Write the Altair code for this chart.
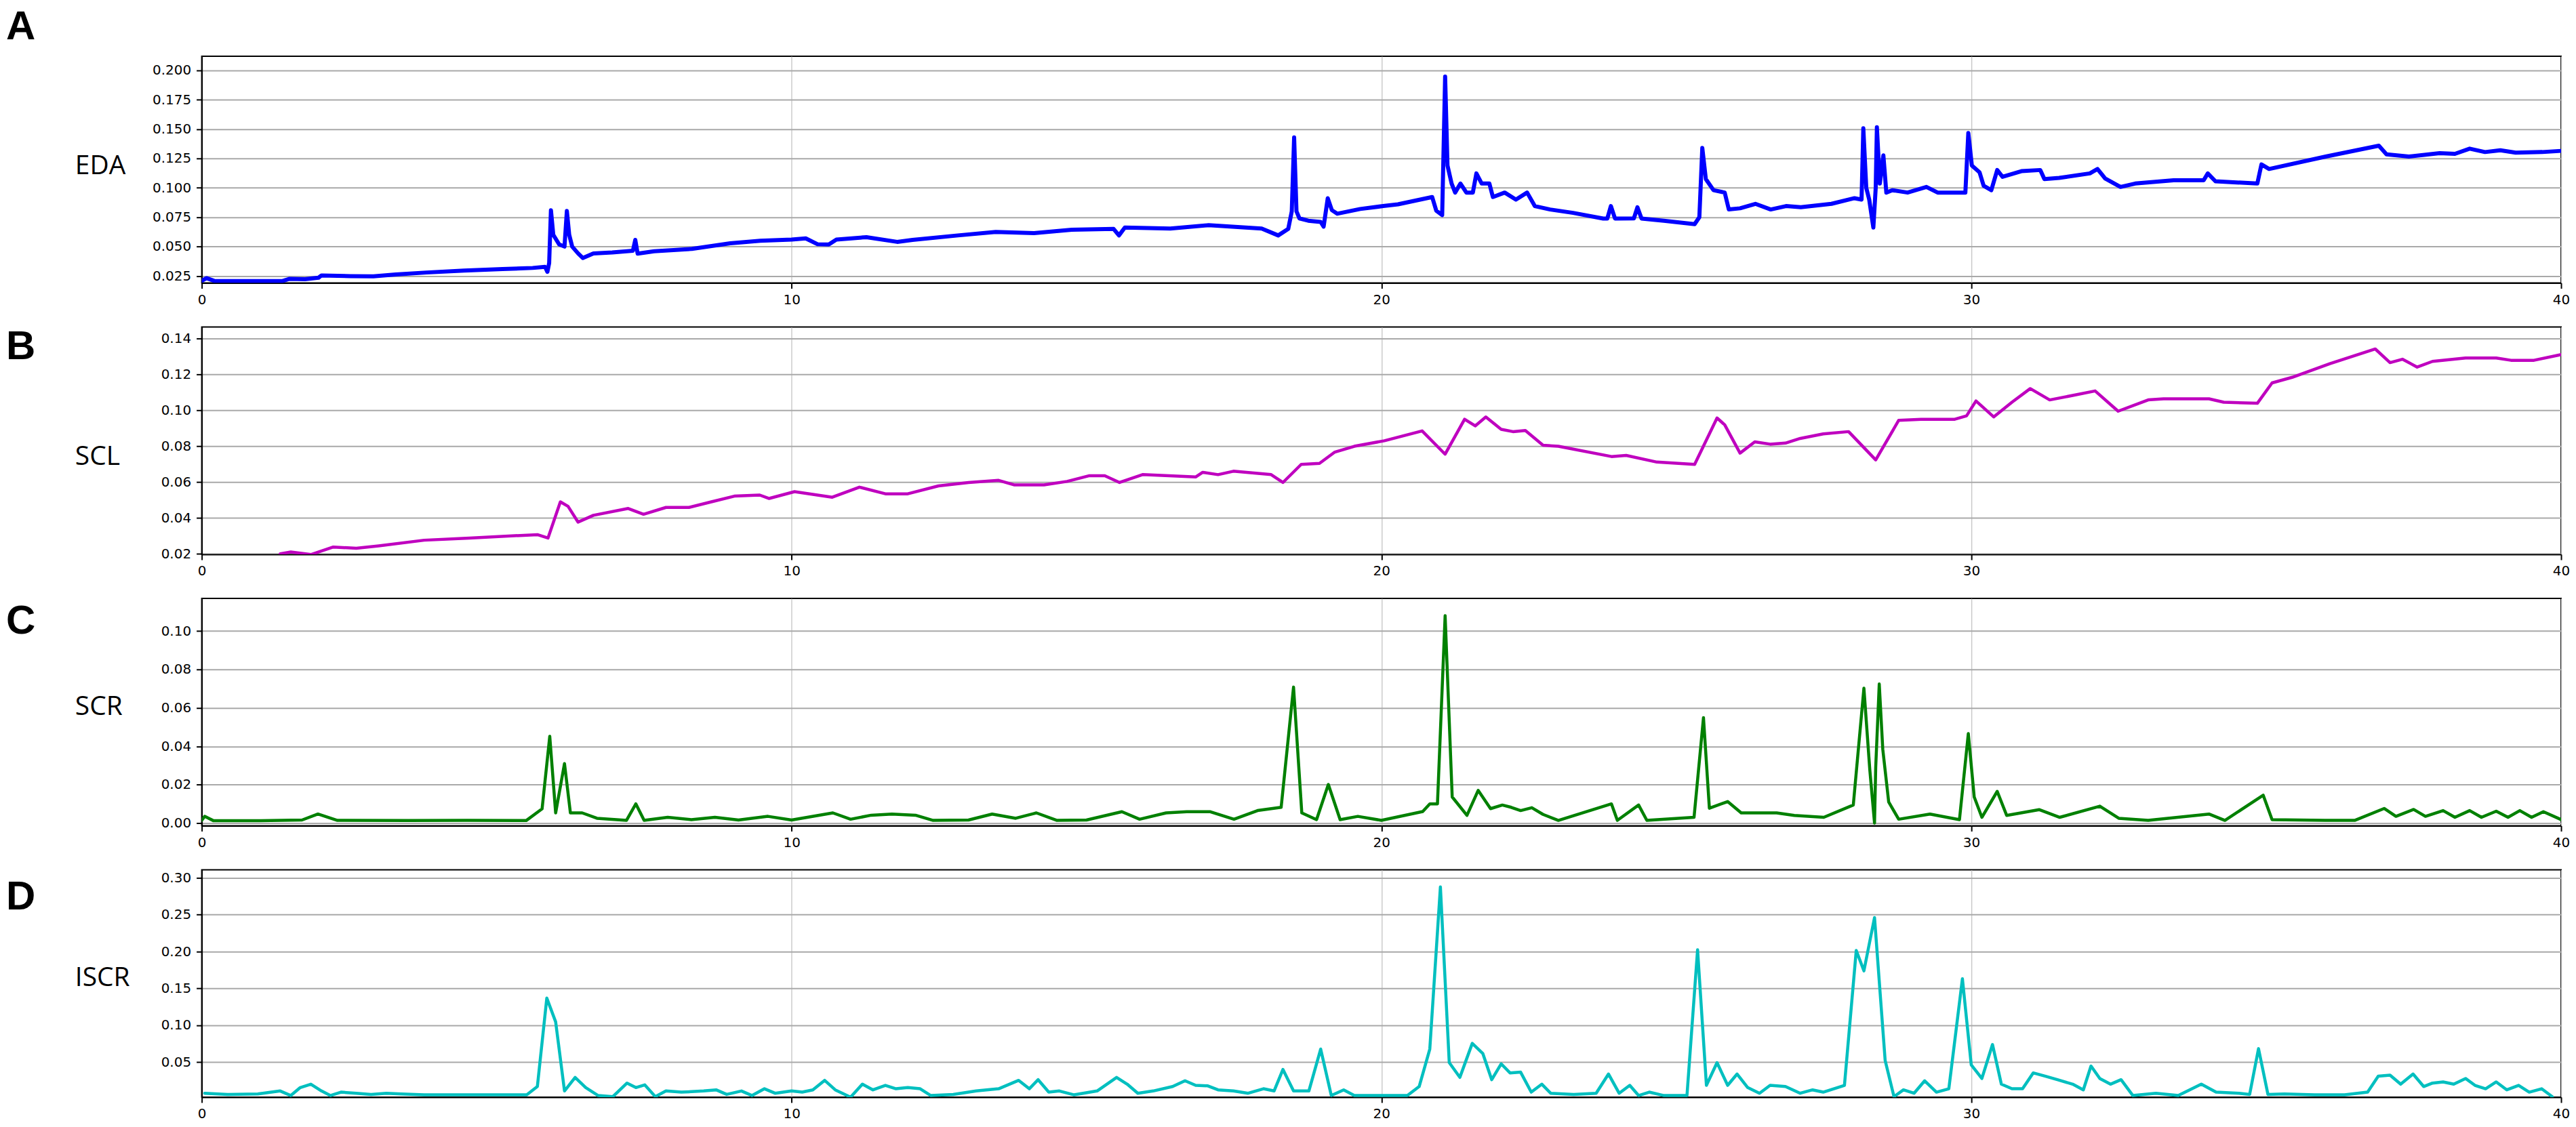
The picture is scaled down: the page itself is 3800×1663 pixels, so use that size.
import altair as alt
import pandas as pd

# ---- data: (time, value) pairs ----
eda_points = [
    (0.01,0.0211),(0.08,0.0231),(0.21,0.0208),(0.72,0.0206),(1.36,0.0206),(1.49,0.0225),(1.75,0.0222),
    (1.98,0.0235),(2.03,0.0254),(2.52,0.0248),(2.91,0.0246),(3.29,0.0262),(3.81,0.0279),(4.45,0.0295),
    (5.10,0.0308),(5.61,0.0318),(5.82,0.0327),(5.86,0.0285),(5.89,0.0360),(5.92,0.0810),(5.96,0.0600),
    (6.06,0.0518),(6.15,0.0500),(6.19,0.0803),(6.23,0.0600),(6.28,0.0500),(6.38,0.0442),(6.46,0.0403),
    (6.64,0.0442),(6.96,0.0450),(7.31,0.0465),(7.35,0.0557),(7.39,0.0440),(7.67,0.0460),(8.31,0.0480),
    (8.96,0.0528),(9.47,0.0550),(10.0,0.0560),(10.24,0.0570),(10.44,0.0520),(10.63,0.0518),(10.76,0.0560),
    (11.27,0.0580),(11.79,0.0540),(12.05,0.0557),(12.82,0.0595),(13.46,0.0624),(14.11,0.0615),(14.75,0.0643),
    (15.46,0.0650),(15.55,0.0595),(15.65,0.0662),(16.42,0.0653),(17.07,0.0682),(17.97,0.0653),(18.25,0.0595),
    (18.42,0.0650),(18.48,0.0800),(18.52,0.1430),(18.56,0.0800),(18.61,0.0740),(18.76,0.0720),(18.97,0.0710),
    (19.02,0.0670),(19.09,0.0912),(19.16,0.0810),(19.25,0.0780),(19.64,0.0820),(20.03,0.0845),(20.28,0.0860),
    (20.86,0.0922),(20.93,0.0806),(21.03,0.0768),(21.08,0.1948),(21.12,0.1190),(21.19,0.1037),(21.25,0.0960),
    (21.34,0.1037),(21.44,0.0960),(21.55,0.0960),(21.61,0.1123),(21.70,0.1037),(21.83,0.1037),(21.89,0.0922),
    (22.09,0.0960),(22.28,0.0900),(22.47,0.0960),(22.60,0.0845),(22.86,0.0816),(23.25,0.0787),(23.76,0.0739),
    (23.83,0.0739),(23.89,0.0845),(23.96,0.0739),(24.28,0.0740),(24.34,0.0835),(24.41,0.0739),(24.79,0.0720),
    (25.31,0.0691),(25.39,0.0750),(25.44,0.1340),(25.50,0.1075),(25.63,0.0980),(25.82,0.0960),(25.89,0.0816),
    (26.08,0.0826),(26.34,0.0864),(26.60,0.0816),(26.86,0.0845),(27.11,0.0835),(27.63,0.0864),(28.02,0.0912),
    (28.14,0.0900),(28.17,0.1507),(28.22,0.1000),(28.27,0.0900),(28.34,0.0662),(28.38,0.1000),(28.40,0.1516),
    (28.45,0.1037),(28.51,0.1277),(28.56,0.0960),(28.66,0.0980),(28.92,0.0960),(29.24,0.1008),(29.43,0.0960),
    (29.90,0.0960),(29.95,0.1468),(30.01,0.1190),(30.14,0.1133),(30.21,0.1018),(30.34,0.0980),(30.44,0.1152),
    (30.53,0.1094),(30.85,0.1142),(31.17,0.1152),(31.24,0.1075),(31.49,0.1085),(32.01,0.1123),(32.14,0.1161),
    (32.27,0.1080),(32.53,0.1008),(32.78,0.1037),(33.43,0.1065),(33.94,0.1065),(34.01,0.1123),(34.14,0.1056),
    (34.85,0.1037),(34.92,0.1200),(35.05,0.1161),(36.01,0.1267),(36.91,0.1359),(37.04,0.1286),(37.42,0.1267),
    (37.94,0.1296),(38.20,0.1290),(38.45,0.1334),(38.71,0.1305),(38.97,0.1320),(39.23,0.1300),(39.68,0.1305),
    (40.0,0.1315),
]

scl_points = [
    (1.33,0.0200),(1.51,0.0210),(1.85,0.0196),(2.23,0.0238),(2.62,0.0231),(3.00,0.0244),(3.77,0.0276),
    (4.54,0.0288),(5.69,0.0307),(5.87,0.0288),(6.08,0.0490),(6.21,0.0465),(6.38,0.0377),(6.64,0.0415),
    (7.23,0.0453),(7.49,0.0421),(7.87,0.0459),(8.26,0.0459),(8.64,0.0490),(9.03,0.0522),(9.46,0.0528),
    (9.62,0.0509),(10.05,0.0547),(10.69,0.0516),(11.15,0.0572),(11.59,0.0535),(11.97,0.0535),(12.49,0.0579),
    (13.00,0.0598),(13.51,0.0610),(13.77,0.0585),(14.28,0.0585),(14.67,0.0604),(15.05,0.0636),(15.31,0.0636),
    (15.56,0.0598),(15.95,0.0642),(16.85,0.0629),(16.97,0.0655),(17.23,0.0642),(17.49,0.0661),(18.13,0.0642),
    (18.33,0.0598),(18.64,0.0699),(18.95,0.0705),(19.21,0.0768),(19.54,0.0800),(20.05,0.0831),(20.69,0.0886),
    (21.08,0.0756),(21.41,0.0951),(21.59,0.0914),(21.77,0.0964),(22.03,0.0895),(22.23,0.0882),(22.44,0.0888),
    (22.74,0.0806),(23.00,0.0800),(23.90,0.0743),(24.15,0.0749),(24.67,0.0712),(25.31,0.0699),(25.69,0.0958),
    (25.82,0.0920),(26.08,0.0762),(26.33,0.0825),(26.59,0.0812),(26.85,0.0818),(27.10,0.0844),(27.49,0.0869),
    (27.92,0.0882),(28.38,0.0724),(28.77,0.0945),(29.15,0.0951),(29.72,0.0951),(29.92,0.0970),(30.08,0.1053),
    (30.38,0.0964),(30.69,0.1046),(31.00,0.1122),(31.33,0.1059),(31.72,0.1084),(32.10,0.1109),(32.49,0.0996),
    (33.00,0.1059),(33.26,0.1065),(34.03,0.1065),(34.28,0.1046),(34.85,0.1040),(35.10,0.1154),(35.44,0.1185),
    (36.08,0.1261),(36.85,0.1343),(37.10,0.1267),(37.31,0.1286),(37.56,0.1242),(37.82,0.1274),(38.38,0.1293),
    (38.90,0.1293),(39.15,0.1280),(39.54,0.1280),(40.00,0.1312),
]

scr_points = [
    (0.00,0.0015),(0.05,0.0035),(0.20,0.0012),(1.00,0.0012),(1.70,0.0016),(1.97,0.0047),(2.30,0.0014),
    (3.50,0.0013),(4.50,0.0014),(5.50,0.0013),(5.77,0.0074),(5.90,0.0452),(6.00,0.0053),(6.15,0.0310),
    (6.25,0.0053),(6.45,0.0053),(6.70,0.0025),(7.20,0.0014),(7.36,0.0100),(7.50,0.0014),(7.90,0.0030),
    (8.30,0.0018),(8.70,0.0030),(9.10,0.0016),(9.60,0.0035),(10.00,0.0016),(10.70,0.0053),(11.00,0.0020),
    (11.35,0.0041),(11.70,0.0047),(12.10,0.0041),(12.40,0.0014),(13.00,0.0016),(13.40,0.0047),(13.80,0.0025),
    (14.15,0.0053),(14.50,0.0014),(15.00,0.0016),(15.60,0.0059),(15.90,0.0020),(16.35,0.0053),(16.70,0.0059),
    (17.10,0.0059),(17.50,0.0020),(17.90,0.0065),(18.30,0.0082),(18.51,0.0708),(18.65,0.0053),(18.90,0.0018),
    (19.10,0.0201),(19.30,0.0018),(19.60,0.0035),(20.00,0.0014),(20.70,0.0060),(20.82,0.0100),(20.95,0.0100),
    (21.08,0.1080),(21.20,0.0136),(21.45,0.0040),(21.64,0.0170),(21.85,0.0075),(22.05,0.0094),(22.20,0.0082),
    (22.36,0.0065),(22.55,0.0080),(22.74,0.0045),(23.00,0.0014),(23.90,0.0100),(24.00,0.0014),(24.36,0.0094),
    (24.50,0.0014),(25.30,0.0030),(25.46,0.0549),(25.56,0.0077),(25.87,0.0112),(26.10,0.0053),(26.40,0.0053),
    (26.70,0.0053),(27.00,0.0040),(27.50,0.0030),(28.00,0.0094),(28.18,0.0702),(28.28,0.0277),(28.36,0.0000),
    (28.38,0.0290),(28.44,0.0724),(28.50,0.0384),(28.60,0.0110),(28.77,0.0020),(29.30,0.0047),(29.80,0.0018),
    (29.95,0.0466),(30.05,0.0136),(30.18,0.0030),(30.44,0.0165),(30.60,0.0040),(31.15,0.0070),(31.50,0.0030),
    (32.18,0.0088),(32.50,0.0025),(33.00,0.0014),(34.03,0.0047),(34.30,0.0014),(34.95,0.0145),(35.10,0.0018),
    (36.00,0.0014),(36.50,0.0014),(37.00,0.0076),(37.20,0.0035),(37.50,0.0071),(37.70,0.0035),(38.00,0.0065),
    (38.20,0.0030),(38.45,0.0065),(38.65,0.0030),(38.90,0.0062),(39.10,0.0030),(39.30,0.0065),(39.50,0.0030),
    (39.70,0.0059),(40.00,0.0018),
]

iscr_points = [
    (0.05,0.0079),(0.44,0.0063),(0.95,0.0069),(1.33,0.0110),(1.51,0.0048),(1.67,0.0156),(1.85,0.0202),
    (2.03,0.0110),(2.18,0.0048),(2.36,0.0094),(2.62,0.0079),(2.87,0.0063),(3.13,0.0079),(3.38,0.0070),
    (3.77,0.0057),(4.54,0.0057),(5.51,0.0057),(5.69,0.0170),(5.85,0.1370),(6.00,0.1047),(6.15,0.0110),
    (6.33,0.0294),(6.51,0.0156),(6.72,0.0048),(6.97,0.0033),(7.21,0.0217),(7.36,0.0156),(7.51,0.0193),
    (7.69,0.0033),(7.87,0.0110),(8.13,0.0094),(8.51,0.0110),(8.72,0.0125),(8.90,0.0063),(9.15,0.0110),
    (9.33,0.0048),(9.54,0.0140),(9.72,0.0079),(10.00,0.0110),(10.18,0.0094),(10.36,0.0125),(10.56,0.0254),
    (10.74,0.0125),(11.00,0.0026),(11.20,0.0202),(11.38,0.0125),(11.59,0.0186),(11.77,0.0140),(11.97,0.0156),
    (12.18,0.0140),(12.36,0.0048),(12.74,0.0063),(13.13,0.0110),(13.51,0.0140),(13.85,0.0254),(14.03,0.0140),
    (14.18,0.0263),(14.36,0.0094),(14.54,0.0110),(14.79,0.0057),(15.18,0.0110),(15.51,0.0294),(15.69,0.0202),
    (15.87,0.0079),(16.13,0.0110),(16.46,0.0170),(16.67,0.0248),(16.85,0.0186),(17.05,0.0180),(17.23,0.0125),
    (17.49,0.0110),(17.74,0.0079),(18.00,0.0140),(18.18,0.0110),(18.33,0.0402),(18.51,0.0110),(18.77,0.0110),
    (18.97,0.0678),(19.15,0.0048),(19.36,0.0125),(19.54,0.0048),(20.44,0.0048),(20.64,0.0170),(20.82,0.0678),
    (21.00,0.2877),(21.15,0.0494),(21.33,0.0294),(21.54,0.0755),(21.72,0.0617),(21.87,0.0263),(22.03,0.0478),
    (22.18,0.0355),(22.36,0.0365),(22.54,0.0094),(22.72,0.0202),(22.87,0.0079),(23.26,0.0063),(23.64,0.0079),
    (23.85,0.0340),(24.03,0.0079),(24.21,0.0186),(24.36,0.0048),(24.54,0.0094),(24.79,0.0048),(25.18,0.0048),
    (25.36,0.2025),(25.51,0.0186),(25.69,0.0494),(25.87,0.0186),(26.03,0.0340),(26.21,0.0156),(26.41,0.0079),
    (26.59,0.0186),(26.85,0.0170),(27.10,0.0079),(27.31,0.0125),(27.49,0.0094),(27.67,0.0140),(27.85,0.0186),
    (28.05,0.2016),(28.18,0.1739),(28.36,0.2462),(28.54,0.0525),(28.69,0.0033),(28.85,0.0125),(29.03,0.0079),
    (29.21,0.0248),(29.41,0.0094),(29.62,0.0140),(29.85,0.1632),(30.00,0.0463),(30.18,0.0279),(30.36,0.0740),
    (30.51,0.0202),(30.69,0.0140),(30.87,0.0140),(31.05,0.0355),(31.26,0.0309),(31.46,0.0263),(31.72,0.0202),
    (31.90,0.0125),(32.03,0.0448),(32.18,0.0279),(32.36,0.0202),(32.54,0.0263),(32.74,0.0048),(33.13,0.0079),
    (33.51,0.0048),(33.90,0.0202),(34.15,0.0094),(34.54,0.0079),(34.72,0.0063),(34.87,0.0684),(35.03,0.0063),
    (35.31,0.0070),(35.82,0.0057),(36.33,0.0057),(36.72,0.0094),(36.90,0.0310),(37.10,0.0325),(37.28,0.0202),
    (37.49,0.0340),(37.67,0.0170),(37.82,0.0217),(38.00,0.0233),(38.18,0.0202),(38.38,0.0279),(38.54,0.0186),
    (38.72,0.0140),(38.90,0.0233),(39.08,0.0125),(39.28,0.0186),(39.46,0.0094),(39.67,0.0140),(39.85,0.0033),
]

x_ticks = [0, 10, 20, 30, 40]
eda_ticks = [0.025, 0.050, 0.075, 0.100, 0.125, 0.150, 0.175, 0.200]
scl_ticks = [0.02, 0.04, 0.06, 0.08, 0.10, 0.12, 0.14]
scr_ticks = [0.00, 0.02, 0.04, 0.06, 0.08, 0.10]
iscr_ticks = [0.05, 0.10, 0.15, 0.20, 0.25, 0.30]

PLOT_W = 3485


def panel(points, color, sw, ydom, yticks, yfmt, letter, letter_y, name, name_y, height):
    df = pd.DataFrame(points, columns=["t", "v"])
    line = alt.Chart(df).mark_line(color=color, strokeWidth=sw, clip=True,
                                   strokeJoin="round", strokeCap="round").encode(
        x=alt.X("t:Q", scale=alt.Scale(domain=[0, 40], nice=False, zero=False),
                axis=alt.Axis(values=x_ticks, format="d", title=None, labelFlush=False,
                              gridColor="#c4c4c4", gridWidth=1.3)),
        y=alt.Y("v:Q", scale=alt.Scale(domain=ydom, nice=False, zero=False),
                axis=alt.Axis(values=yticks, format=yfmt, title=None,
                              gridColor="#a9a9a9", gridWidth=2)),
    )
    lab = alt.Chart(pd.DataFrame({"s": [letter]})).mark_text(
        font="Liberation Sans", fontWeight="bold", fontSize=60, align="left",
        baseline="alphabetic", color="black").encode(
        text="s:N", x=alt.value(-289), y=alt.value(letter_y))
    nm = alt.Chart(pd.DataFrame({"s": [name]})).mark_text(
        font="Open Sans", fontSize=39, align="left", baseline="alphabetic",
        color="black").encode(
        text="s:N", x=alt.value(-187), y=alt.value(name_y))
    return alt.layer(line, lab, nm).properties(width=PLOT_W, height=height)


pA = panel(eda_points, "#0000ff", 6.0, [0.019, 0.2121], eda_ticks, ".3f", "A", -25, "EDA", 174, 335)
pB = panel(scl_points, "#bf00bf", 4.5, [0.0197, 0.1466], scl_ticks, ".2f", "B", 48, "SCL", 204, 336)
pC = panel(scr_points, "#008000", 4.5, [-0.0014, 0.117], scr_ticks, ".2f", "C", 52, "SCR", 172, 336)
pD = panel(iscr_points, "#00bfbf", 4.5, [0.0026, 0.311], iscr_ticks, ".2f", "D", 59, "ISCR", 172, 336)

chart = alt.vconcat(pA, pB, pC, pD, spacing=28).properties(
    padding={"left": 0, "top": 0, "right": 0, "bottom": 0}
).configure_view(
    stroke="black", strokeWidth=2
).configure_axis(
    labelFont="DejaVu Sans", labelFontSize=20, labelColor="black",
    tickColor="black", tickSize=8, tickWidth=2,
    domainColor="black", domainWidth=2, labelPadding=7, grid=True
).configure_axisY(labelPadding=8)

chart.save("out.html", embed_options={"renderer": "svg", "actions": False})
